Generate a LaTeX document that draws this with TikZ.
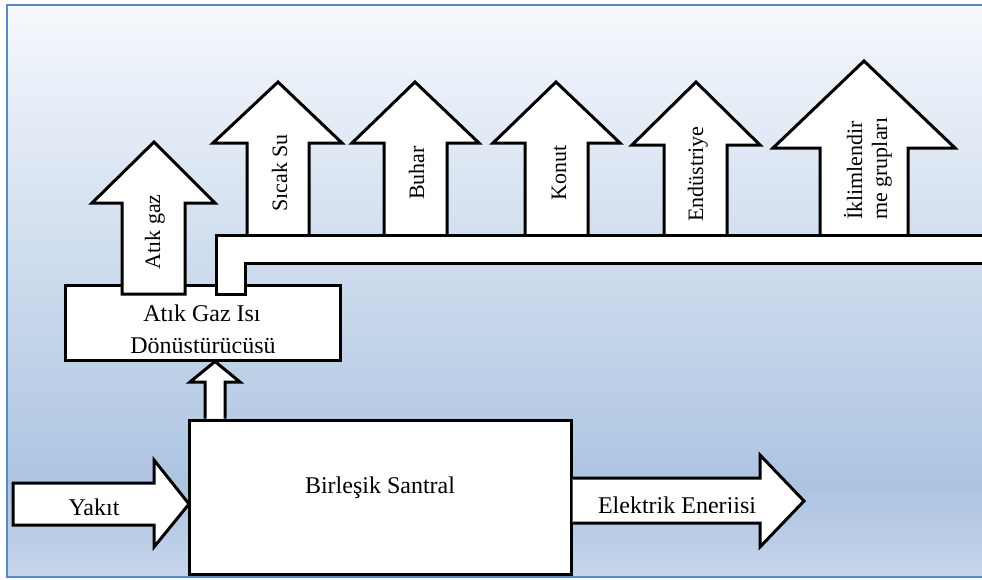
\documentclass[tikz,border=0pt]{standalone}
\usepackage{fontspec}
\setmainfont{Liberation Serif}
\definecolor{bgtop}{HTML}{F5F8FC}
\definecolor{bgmid}{HTML}{ADC4E1}
\definecolor{bgbot}{HTML}{C6D5EB}
\definecolor{framec}{HTML}{5A89C8}
\pgfdeclareverticalshading{bgshade}{100bp}{color(0bp)=(bgbot); color(25bp)=(bgbot); color(33bp)=(bgmid); color(75bp)=(bgtop); color(100bp)=(bgtop)}
\begin{document}
\begin{tikzpicture}[x=1pt,y=-1pt,
  blk/.style={draw=black, fill=white, line width=3pt, line join=miter},
  hlab/.style={font=\fontsize{24}{28}\selectfont, inner sep=0pt, anchor=base},
  vlab/.style={font=\fontsize{22}{26}\selectfont, inner sep=0pt, rotate=90, anchor=base},
  vlabw/.style={font=\fontsize{22}{26}\selectfont, inner sep=0pt, rotate=90, anchor=base west}]
\useasboundingbox (0,0) rectangle (982,579);
\fill[white] (0,0) rectangle (982,579);
\shade[shading=bgshade] (7,5) rectangle (990,577);
\draw[framec, line width=2pt] (990,5) -- (7,5) -- (7,577) -- (990,577);

% Yakit arrow and main box
\filldraw[blk] (13,483) -- (154,483) -- (154,460) -- (189,504) -- (154,547) -- (154,525) -- (13,525) -- cycle;
\filldraw[blk] (189,420) rectangle (571,574);
% Elektrik arrow
\fill[white] (572.5,478) -- (760,478) -- (760,455) -- (804,501) -- (760,547) -- (760,523) -- (572.5,523) -- cycle;
\draw[blk, fill=none] (572.5,478) -- (760,478) -- (760,455) -- (804,501) -- (760,547) -- (760,523) -- (572.5,523);
% small up arrow
\fill[white] (205,418.5) -- (205,382) -- (190,382) -- (215,361.5) -- (240,382) -- (225,382) -- (225,418.5) -- cycle;
\draw[blk, fill=none] (205,418.5) -- (205,382) -- (190,382) -- (215,361.5) -- (240,382) -- (225,382) -- (225,418.5);
% converter box
\filldraw[blk] (65,285) rectangle (340,360);
% Atik gaz arrow
\filldraw[blk] (122,294) -- (122,203) -- (92,203) -- (154,142) -- (215,203) -- (185,203) -- (185,294) -- cycle;

% up arrows on the pipe
\filldraw[blk] (247,240) -- (247,143) -- (213,143) -- (278,82) -- (342,143) -- (309,143) -- (309,240);
\filldraw[blk] (384,240) -- (384,143) -- (352,143) -- (415,82) -- (479,143) -- (447,143) -- (447,240);
\filldraw[blk] (525,240) -- (525,143) -- (493,143) -- (556,82) -- (620,143) -- (588,143) -- (588,240);
\filldraw[blk] (664,240) -- (664,145) -- (632,145) -- (696,82) -- (760,145) -- (727,145) -- (727,240);
\filldraw[blk] (820,240) -- (820,148) -- (773,148) -- (864,61) -- (955,148) -- (908,148) -- (908,240);
% pipe
\filldraw[blk] (216,294) -- (216,235) -- (995,235) -- (995,263) -- (245,263) -- (245,294) -- cycle;

% labels
\node[hlab] (santral) at (380,493) {Birleşik Santral};
\begin{scope}
  \clip (20,470) rectangle (150,515);
  \node[hlab] (yakit) at (94,515.5) {Yakıt};
\end{scope}
\begin{scope}
  \clip (580,470) rectangle (780,512.5);
  \node[hlab] (elektrik) at (677,513) {Elektrik Enerjisi};
\end{scope}
\node[hlab] (agi1) at (202,321) {Atık Gaz Isı};
\begin{scope}
  \clip (80,325) rectangle (330,352.5);
  \node[hlab] (agi2) at (203,353) {Dönüştürücüsü};
\end{scope}
\node[vlab] (atikgaz) at (160,232) {Atık gaz};
\node[vlab] (sicaksu) at (287,173) {Sıcak Su};
\node[vlab] (buhar) at (424,173) {Buhar};
\node[vlab] (konut) at (566,173) {Konut};
\node[vlab] (endustri) at (703,174) {Endüstriye};
\node[vlabw] (iklim1) at (862,220) {İklimlendir};
\node[vlabw] (iklim2) at (887,220) {me grupları};
\end{tikzpicture}
\end{document}
